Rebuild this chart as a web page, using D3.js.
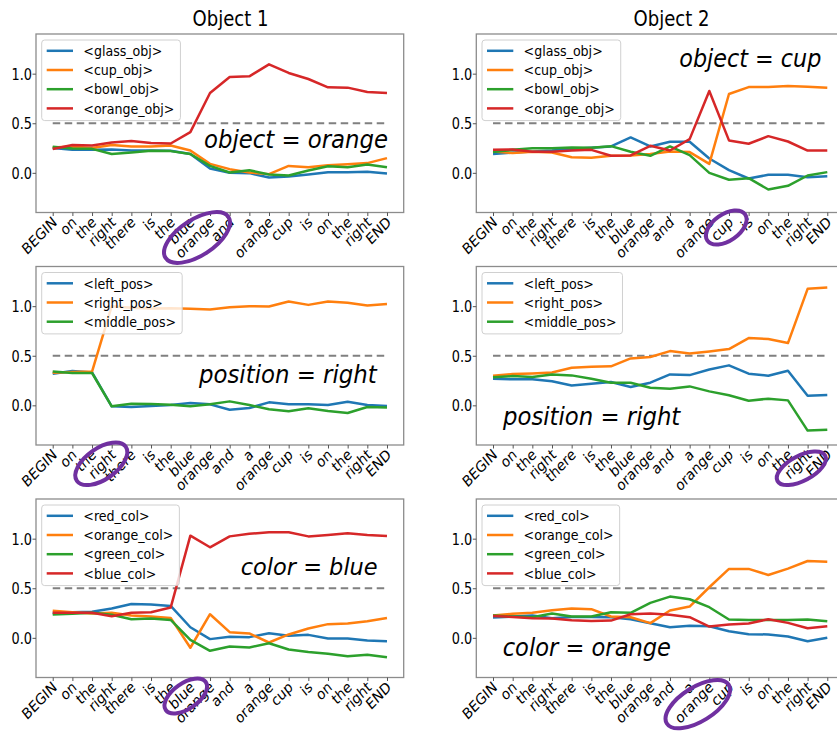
<!DOCTYPE html>
<html><head><meta charset="utf-8">
<script src="https://cdn.jsdelivr.net/npm/d3@7"></script>
<style>body{margin:0;background:#fff} svg{display:block}</style>
</head><body><svg id="c" width="837" height="731"></svg>
<script>
// ---------- DATA ----------
const tokens = ["BEGIN","on","the","right","there","is","the","blue","orange","and","a","orange","cup","is","on","the","right","END"];
const yTicks = [0.0, 0.5, 1.0];
const titles = ["Object 1", "Object 2"];
const threshold = 0.5;

const objLabels = ["<glass_obj>","<cup_obj>","<bowl_obj>","<orange_obj>"];
const posLabels = ["<left_pos>","<right_pos>","<middle_pos>"];
const colLabels = ["<red_col>","<orange_col>","<green_col>","<blue_col>"];

// Object 1 – object = orange
const o1_glass  = [0.25,0.232,0.232,0.236,0.225,0.225,0.222,0.19,0.044,0.0,-0.003,-0.047,-0.037,-0.017,0.007,0.007,0.01,-0.007];
const o1_cup    = [0.256,0.266,0.25,0.28,0.266,0.266,0.276,0.225,0.09,0.037,0.003,-0.013,0.07,0.057,0.077,0.087,0.098,0.148];
const o1_bowl   = [0.263,0.246,0.242,0.19,0.205,0.222,0.219,0.19,0.07,0.003,0.027,-0.017,-0.027,0.024,0.067,0.057,0.084,0.057];
const o1_orange = [0.24,0.28,0.276,0.306,0.32,0.30,0.296,0.41,0.805,0.966,0.973,1.094,1.007,0.946,0.862,0.859,0.815,0.805];
// Object 2 – object = cup
const o2_glass  = [0.189,0.205,0.215,0.225,0.24,0.252,0.266,0.357,0.266,0.313,0.313,0.145,0.027,-0.057,-0.02,-0.02,-0.044,-0.034];
const o2_cup    = [0.215,0.2,0.212,0.205,0.158,0.152,0.172,0.175,0.189,0.215,0.209,0.09,0.795,0.865,0.865,0.875,0.869,0.859];
const o2_bowl   = [0.209,0.232,0.249,0.249,0.256,0.252,0.269,0.212,0.172,0.266,0.178,0.0,-0.07,-0.054,-0.168,-0.131,-0.027,0.007];
const o2_orange = [0.232,0.236,0.212,0.212,0.225,0.232,0.172,0.175,0.273,0.225,0.34,0.825,0.327,0.293,0.37,0.316,0.225,0.225];
// Object 1 – position = right
const p1_left   = [0.319,0.346,0.332,-0.01,-0.017,-0.007,0.003,0.023,0.01,-0.044,-0.027,0.03,0.01,0.01,0.003,0.037,0.003,-0.007];
const p1_right  = [0.329,0.336,0.34,1.0,0.983,0.977,0.98,0.973,0.967,0.99,1.0,0.997,1.047,1.013,1.047,1.034,1.007,1.023];
const p1_middle = [0.342,0.326,0.326,-0.01,0.017,0.013,0.007,-0.01,0.01,0.04,0.003,-0.04,-0.06,-0.03,-0.057,-0.077,-0.017,-0.023];
// Object 2 – position = right
const p2_left   = [0.268,0.262,0.262,0.242,0.201,0.218,0.235,0.185,0.228,0.312,0.305,0.362,0.403,0.319,0.299,0.349,0.097,0.104];
const p2_right  = [0.299,0.315,0.322,0.332,0.379,0.389,0.393,0.473,0.487,0.547,0.523,0.544,0.567,0.678,0.668,0.628,1.175,1.188];
const p2_middle = [0.282,0.295,0.285,0.312,0.302,0.268,0.228,0.228,0.178,0.168,0.191,0.141,0.101,0.047,0.067,0.05,-0.255,-0.245];
// Object 1 – color = blue
const c1_red    = [0.248,0.258,0.262,0.295,0.342,0.336,0.322,0.107,-0.013,0.01,0.007,0.047,0.02,0.03,-0.007,-0.007,-0.027,-0.034];
const c1_orange = [0.272,0.258,0.245,0.252,0.225,0.215,0.201,-0.1,0.238,0.057,0.044,-0.047,0.034,0.094,0.138,0.144,0.168,0.201];
const c1_green  = [0.235,0.242,0.252,0.232,0.188,0.195,0.181,-0.02,-0.131,-0.087,-0.097,-0.054,-0.117,-0.144,-0.161,-0.185,-0.171,-0.195];
const c1_blue   = [0.252,0.252,0.252,0.218,0.252,0.258,0.305,1.03,0.913,1.023,1.05,1.064,1.064,1.023,1.037,1.054,1.037,1.027];
// Object 2 – color = orange
const c2_red    = [0.205,0.215,0.225,0.198,0.211,0.211,0.208,0.188,0.148,0.107,0.121,0.117,0.067,0.037,0.034,0.013,-0.034,0.0];
const c2_orange = [0.225,0.242,0.252,0.279,0.295,0.289,0.215,0.208,0.148,0.275,0.315,0.51,0.695,0.695,0.634,0.698,0.775,0.768];
const c2_green  = [0.225,0.215,0.208,0.245,0.215,0.215,0.258,0.252,0.352,0.416,0.389,0.309,0.185,0.181,0.181,0.181,0.185,0.168];
const c2_blue   = [0.221,0.211,0.198,0.195,0.178,0.171,0.174,0.238,0.245,0.232,0.208,0.114,0.134,0.144,0.188,0.151,0.097,0.117];

const annotations = ["object = orange","object = cup","position = right","position = right","color = blue","color = orange"];
const highlighted = [8, 12, 3, 16, 7, 11];

// ---------- STYLE / LAYOUT ----------
const colors = ["#1f77b4","#ff7f0e","#2ca02c","#d62728"];
const SX = 0.86;               // horizontal squeeze of the original raster
const colLeft = [36, 476.3], axW = 367.7;
const rowTop = [34, 266.5, 499], axH = 178.5;

const panels = [
  {r:0,c:0,labels:objLabels,series:[o1_glass,o1_cup,o1_bowl,o1_orange],
   ann:{x:204,y:147.5,w:184,fs:24}, ell:{dx:-13,dy:25,rx:37.5,ry:18,a:-33}},
  {r:0,c:1,labels:objLabels,series:[o2_glass,o2_cup,o2_bowl,o2_orange],
   ann:{x:679.3,y:66.7,w:142,fs:24}, ell:{dx:-2.7,dy:15,rx:23,ry:13.3,a:-35}},
  {r:1,c:0,labels:posLabels,series:[p1_left,p1_right,p1_middle],
   ann:{x:199,y:383.3,w:177.7,fs:24}, ell:{dx:-10.4,dy:18.8,rx:29.8,ry:15.5,a:-35}},
  {r:1,c:1,labels:posLabels,series:[p2_left,p2_right,p2_middle],
   ann:{x:503,y:425,w:177.3,fs:24}, ell:{dx:-6.3,dy:23.3,rx:27,ry:12.5,a:-28}},
  {r:2,c:0,labels:colLabels,series:[c1_red,c1_orange,c1_green,c1_blue],
   ann:{x:240.7,y:575,w:137,fs:23}, ell:{dx:-4.6,dy:18.5,rx:24.4,ry:12.8,a:-35}},
  {r:2,c:1,labels:colLabels,series:[c2_red,c2_orange,c2_green,c2_blue],
   ann:{x:502.7,y:656,w:168.3,fs:24}, ell:{dx:-11.5,dy:26.7,rx:36.5,ry:17,a:-32}},
];

const svg = d3.select("#c");
const FONT = "DejaVu Sans, sans-serif";

// titles
titles.forEach((t,i)=>{
  const cx = [230.5, 671.5][i];
  svg.append("text").text(t)
    .attr("transform",`translate(${cx},25.5) scale(${SX},1)`)
    .attr("text-anchor","middle").attr("font-family",FONT).attr("font-size",21).attr("fill","#000");
});

panels.forEach((p,pi)=>{
  const L = colLeft[p.c], T = rowTop[p.r];
  const x = d3.scaleLinear().domain([-0.85, tokens.length-1+0.85]).range([L, L+axW]);
  const y = d3.scaleLinear().domain([-0.4, 1.4]).range([T+axH, T]);
  const g = svg.append("g");

  // threshold dashed line
  g.append("line").attr("x1",x(0)).attr("x2",x(tokens.length-1))
    .attr("y1",y(threshold)).attr("y2",y(threshold))
    .attr("stroke","#808080").attr("stroke-width",2).attr("stroke-dasharray","7.5,4.5");

  // series lines
  const line = d3.line().x((d,i)=>x(i)).y(d=>y(d));
  p.series.forEach((s,si)=>{
    g.append("path").datum(s).attr("d",line).attr("fill","none")
      .attr("stroke",colors[si]).attr("stroke-width",2.5).attr("stroke-linejoin","round");
  });

  // frame
  g.append("rect").attr("x",L).attr("y",T).attr("width",axW).attr("height",axH)
    .attr("fill","none").attr("stroke","#8c8c8c").attr("stroke-width",1.3);

  // x axis
  const xa = g.append("g").attr("transform",`translate(0,${T+axH})`)
    .call(d3.axisBottom(x).tickValues(d3.range(tokens.length)).tickFormat(i=>tokens[i]).tickSize(3.5));
  xa.select(".domain").remove();
  xa.selectAll(".tick line").attr("stroke","#555").attr("stroke-width",1);
  xa.selectAll(".tick text")
    .attr("x",null).attr("y",null).attr("dy",null)
    .attr("text-anchor","end")
    .attr("transform",`translate(4.5,11) scale(${SX},1) rotate(-42)`)
    .attr("font-family",FONT).attr("font-size",15.3).attr("fill","#000");

  // y axis
  const ya = g.append("g").attr("transform",`translate(${L},0)`)
    .call(d3.axisLeft(y).tickValues(yTicks).tickFormat(d3.format(".1f")).tickSize(3.5));
  ya.select(".domain").remove();
  ya.selectAll(".tick line").attr("stroke","#555").attr("stroke-width",1);
  ya.selectAll(".tick text")
    .attr("x",null).attr("dy","0.36em")
    .attr("text-anchor","end")
    .attr("transform",`translate(-4,0) scale(${SX},1)`)
    .attr("font-family",FONT).attr("font-size",15).attr("fill","#000");

  // legend
  const lg = g.append("g").attr("transform",`translate(${L+5.7},${T+6})`);
  const n = p.labels.length;
  const lh = (n-1)*19.2 + 23;
  const box = lg.append("rect").attr("rx",3).attr("ry",3)
    .attr("fill","#fff").attr("fill-opacity",0.8).attr("stroke","#d0d0d0").attr("stroke-width",1)
    .attr("height",lh);
  let maxW = 0;
  p.labels.forEach((lab,li)=>{
    const yy = 10.8 + li*19.2;
    lg.append("line").attr("x1",5).attr("x2",31.3).attr("y1",yy).attr("y2",yy)
      .attr("stroke",colors[li]).attr("stroke-width",2.5);
    const t = lg.append("text").text(lab)
      .attr("transform",`translate(41.6,${yy}) scale(${SX},1)`)
      .attr("dy","0.36em").attr("font-family",FONT).attr("font-size",14.7).attr("fill","#000");
    maxW = Math.max(maxW, t.node().getComputedTextLength()*SX);
  });
  box.attr("width", 41.6 + maxW + 6);

  // annotation text
  svg.append("text").text(annotations[pi])
    .attr("x",p.ann.x).attr("y",p.ann.y)
    .attr("font-family",FONT).attr("font-style","italic").attr("font-size",p.ann.fs)
    .attr("textLength",p.ann.w).attr("lengthAdjust","spacingAndGlyphs").attr("fill","#000");

  // highlight ellipse
  const hx = x(highlighted[pi]) + p.ell.dx, hy = T + axH + p.ell.dy;
  svg.append("ellipse").attr("cx",0).attr("cy",0).attr("rx",p.ell.rx).attr("ry",p.ell.ry)
    .attr("transform",`translate(${hx},${hy}) rotate(${p.ell.a})`)
    .attr("fill","none").attr("stroke","#7030a0").attr("stroke-width",4);
});
</script></body></html>
